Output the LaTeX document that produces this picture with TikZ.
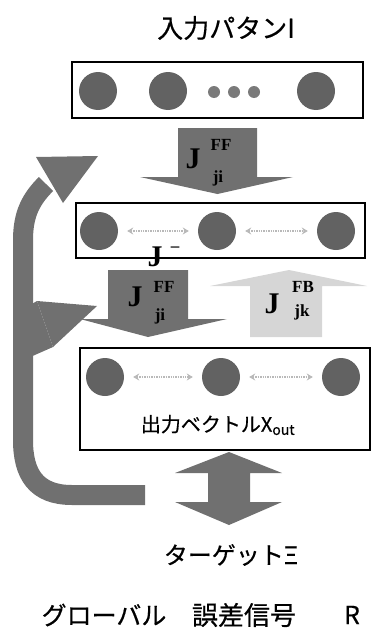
\documentclass[tikz,border=0pt]{standalone}
\usepackage{fontspec}
\newfontfamily\jp[FakeBold=0.5]{Noto Sans CJK JP}
\newfontfamily\jser{Liberation Serif}
\usetikzlibrary{arrows.meta}
\definecolor{darkA}{RGB}{112,112,112}
\definecolor{lightA}{RGB}{214,214,214}
\definecolor{circfill}{RGB}{98,98,98}
\definecolor{dotline}{RGB}{185,185,185}
\tikzset{
  neuron/.style={circle, fill=circfill, minimum size=38pt, inner sep=0pt},
  smalldot/.style={circle, fill=circfill!85, minimum size=12pt, inner sep=0pt},
  layerbox/.style={draw=black, line width=1.2pt, inner sep=0pt},
  lateral/.style={dotline, densely dotted, line width=1.4pt, {Stealth[length=6pt,width=7pt]}-{Stealth[length=6pt,width=7pt]}, shorten <=9pt, shorten >=9pt},
  bigJ/.style={font=\jser\bfseries\fontsize{30}{30}\selectfont, inner sep=0pt},
  idx/.style={font=\jser\bfseries\fontsize{17}{17}\selectfont, inner sep=0pt},
  jptext/.style={inner sep=0pt}
}
\begin{document}
\begin{tikzpicture}[x=1pt,y=-1pt]
\useasboundingbox (0,0) rectangle (372,637);
% left feedback arrow (global error signal)
\draw[darkA, line width=20pt] (145,495) -- (72,495) .. controls (36,495) and (23,474) .. (23,440) -- (23,240) .. controls (23,214) and (31,199) .. (46,184);
\fill[darkA] (36,157) -- (98,156) -- (63,203) -- cycle;
\fill[darkA] (30,305) -- (37,301) -- (53,347) -- (28,358) -- cycle;
\fill[darkA] (37,301) -- (97,306) -- (53,347) -- cycle;
% layer boxes
\node[layerbox, minimum width=291pt, minimum height=56pt] (b1) at (217.5,90) {};
\node[layerbox, minimum width=289pt, minimum height=55pt] (b2) at (220.5,230.5) {};
\node[layerbox, minimum width=290pt, minimum height=102pt] (b3) at (225,399) {};
% input layer
\node[neuron] (i1) at (98,91) {};
\node[neuron] (i2) at (168,91) {};
\node[smalldot] (d1) at (214,92) {};
\node[smalldot] (d2) at (234,92) {};
\node[smalldot] (d3) at (254,92) {};
\node[neuron] (i3) at (316,91) {};
% hidden layer
\node[neuron] (h1) at (99,231) {};
\node[neuron] (h2) at (217,231) {};
\node[neuron] (h3) at (336,231) {};
\draw[lateral] (h1) -- (h2);
\draw[lateral] (h2) -- (h3);
% output layer
\node[neuron] (o1) at (105,377) {};
\node[neuron] (o2) at (221,377) {};
\node[neuron] (o3) at (341,377) {};
\draw[lateral] (o1) -- (o2);
\draw[lateral] (o2) -- (o3);
% arrow input -> hidden
\fill[darkA] (178,128) -- (257,128) -- (257,177) -- (293,177) -- (217.5,194) -- (140,177) -- (178,177) -- cycle;
% arrow hidden -> output
\fill[darkA] (108,270) -- (188,270) -- (188,319) -- (227,319) -- (148,337) -- (80,319) -- (108,319) -- cycle;
% feedback arrow output -> hidden
\fill[lightA] (250,337) -- (322,337) -- (322,286) -- (367,286) -- (289,270) -- (210,286) -- (250,286) -- cycle;
% double arrow output <-> target
\fill[darkA] (229,452) -- (282,473) -- (250,473) -- (250,502) -- (282,502) -- (229,525) -- (175,502) -- (208,502) -- (208,473) -- (175,473) -- cycle;
% J labels
\node[bigJ] (ja) at (193,159) {J};
\node[idx] (jaff) at (221,145) {FF};
\node[idx] (jaji) at (218,178) {ji};
\node[bigJ] (jm) at (155,257) {J};
\node[idx] (jmm) at (175,249) {\textendash};
\node[bigJ] (jb) at (135,297) {J};
\node[idx] (jbff) at (164,287) {FF};
\node[idx] (jbji) at (160,316) {ji};
\node[bigJ] (jc) at (272,304) {J};
\node[idx] (jcfb) at (303,287) {FB};
\node[idx] (jcjk) at (302,312) {jk};
% texts
\node[jptext, font=\jp\fontsize{26}{30}\selectfont] (title) at (226,28) {入力パタンI};
\node[jptext, font=\jp\fontsize{20}{24}\selectfont] (outl) at (218,425) {出力ベクトルX\textsubscript{out}};
\node[jptext, font=\jp\fontsize{24}{28}\selectfont] (tgt) at (231,555) {ターゲットΞ};
\node[jptext, font=\jp\fontsize{25}{28}\selectfont] (glob1) at (104,615) {グローバル};
\node[jptext, font=\jp\fontsize{26}{28}\selectfont] (glob2) at (244,615) {誤差信号};
\node[jptext, font=\jp\fontsize{25}{28}\selectfont] (glob3) at (352,615) {R};
\end{tikzpicture}
\end{document}
